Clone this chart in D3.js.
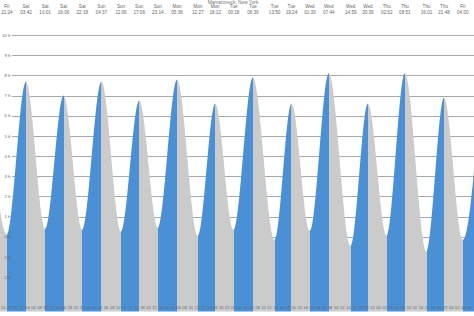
<!DOCTYPE html>
<html>
<head>
<meta charset="utf-8">
<script src="https://cdn.jsdelivr.net/npm/d3@7"></script>
<style>
  html, body { margin: 0; padding: 0; background: #fff; }
  svg { display: block; }
  text { font-family: "Liberation Sans", Arial, sans-serif; }
</style>
</head>
<body>
<svg id="chart" width="474" height="316"></svg>
<script>
// ---- data (tide extremes, Mamaroneck, New York) ----
const title = "Mamaroneck, New York";
const extremeDays  = ["Fri","Fri","Sat","Sat","Sat","Sat","Sun","Sun","Sun","Sun","Mon","Mon","Mon","Tue","Tue","Tue","Tue","Wed","Wed","Wed","Wed","Thu","Thu","Thu","Thu","Fri","Fri"];
const extremeTimes = ["15:10","21:24","03:42","10:01","16:06","22:18","04:37","11:06","17:06","23:14","05:36","12:27","18:12","00:18","06:39","13:50","19:24","01:30","07:44","14:59","20:39","02:52","08:51","16:01","21:48","04:00","10:15"];
const extremeFeet  = [7.0, 0.1, 7.7, 0.4, 7.0, 0.35, 7.7, 0.25, 6.75, 0.45, 7.8, 0.05, 6.6, 0.35, 7.9, -0.15, 6.6, 0.3, 8.1, -0.45, 6.6, 0.05, 8.1, -0.75, 6.9, -0.15, 8.0];
const yTickValues  = [-2, -1, 0, 1, 2, 3, 4, 5, 6, 7, 8, 9, 10];
const hourTicks    = d3.range(20, 176, 2); // hours since Fri 00:00, every 2 h

// ---- parse times to hours since first Friday 00:00 ----
const dayOrder = ["Fri","Sat","Sun","Mon","Tue","Wed","Thu"];
let prevIdx = 0;
const tides = extremeDays.map((d, i) => {
  let idx = dayOrder.indexOf(d);
  while (idx < prevIdx) idx += 7;
  prevIdx = idx;
  const [hh, mm] = extremeTimes[i].split(":").map(Number);
  return { day: d, time: extremeTimes[i], t: idx * 24 + hh + mm / 60, h: extremeFeet[i] };
});

const W = 474, H = 316;
const svg = d3.select("#chart");

const x = d3.scaleLinear().domain([19.11, 19.11 + 474 / 3.027]).range([0, W]);
const y = d3.scaleLinear().domain([-3.7, 10]).range([311.5, 35]);

const blue = "#4b8fd5", grey = "#cbcbcb";

// grid lines
svg.append("g").selectAll("line").data(yTickValues).join("line")
  .attr("x1", 12).attr("x2", W)
  .attr("y1", d => Math.round(y(d)) + 0.5).attr("y2", d => Math.round(y(d)) + 0.5)
  .attr("stroke", "#a8a8a8").attr("stroke-width", 1);

// tide area clip
const area = d3.area().x(d => x(d.t)).y0(y(-3.7)).y1(d => y(d.h)).curve(d3.curveMonotoneX);
const defs = svg.append("defs");
defs.append("clipPath").attr("id", "tideClip").append("path").attr("d", area(tides));

// rising (blue) / falling (grey) segments
const segs = d3.pairs(tides);
svg.append("g").attr("clip-path", "url(#tideClip)").selectAll("rect").data(segs).join("rect")
  .attr("x", d => x(d[0].t)).attr("width", d => x(d[1].t) - x(d[0].t))
  .attr("y", 0).attr("height", H)
  .attr("fill", d => d[1].h > d[0].h ? blue : grey)
  .attr("shape-rendering", "crispEdges");

// y labels
svg.append("g").selectAll("text").data(yTickValues).join("text")
  .attr("x", 10.5).attr("y", d => y(d) + 1.6)
  .attr("text-anchor", "end").attr("font-size", 4.3).attr("fill", "#666")
  .text(d => d + " ft");

// title
svg.append("text").attr("x", 233).attr("y", 3.8).attr("text-anchor", "middle")
  .attr("font-size", 4.8).attr("fill", "#777").text(title);

// top extreme labels
const visible = tides.filter(d => x(d.t) > 0 && x(d.t) < W);
const topLabels = svg.append("g").selectAll("g").data(visible).join("g")
  .attr("transform", d => `translate(${x(d.t)},0)`);
topLabels.append("text").attr("y", 8.2).attr("text-anchor", "middle")
  .attr("font-size", 4.6).attr("fill", "#666").text(d => d.day);
topLabels.append("text").attr("y", 14).attr("text-anchor", "middle")
  .attr("font-size", 4.6).attr("fill", "#666").text(d => d.time);

// bottom hour axis
const xAxis = d3.axisBottom(x).tickValues(hourTicks).tickSize(0).tickPadding(0)
  .tickFormat(d => String(d % 24).padStart(2, "0"));
const gx = svg.append("g").attr("transform", "translate(0,306)").call(xAxis);
gx.select(".domain").remove();
gx.selectAll("text").attr("font-size", 4).attr("fill", "#5a6a7a")
  .attr("font-family", "Liberation Sans, Arial, sans-serif");
</script>
</body>
</html>
